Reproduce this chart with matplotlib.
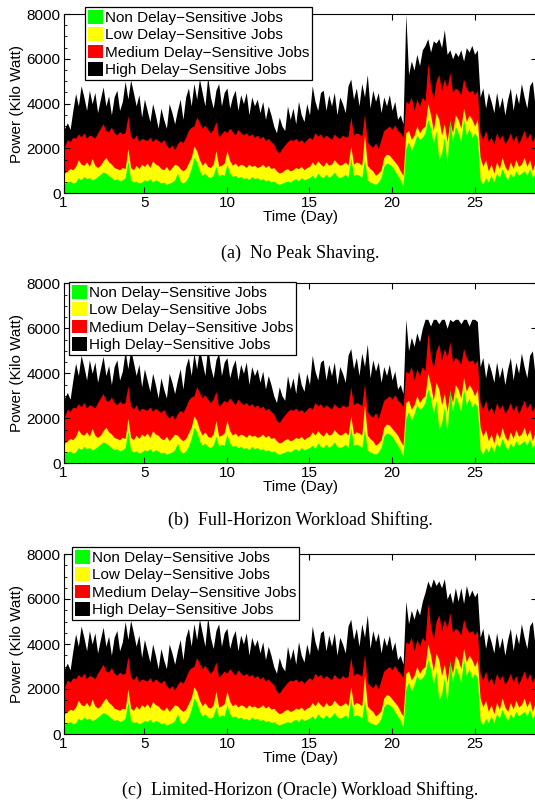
import matplotlib
matplotlib.use("Agg")
import matplotlib.pyplot as plt
import numpy as np
from matplotlib.patches import Patch
from matplotlib.ticker import MultipleLocator

plt.rcParams["font.family"] = ["Liberation Sans", "DejaVu Sans"]

# ---- data (kW), 6 samples per day (every 4 h) ----
samples_per_day = 6
job_labels = ["Non Delay\u2212Sensitive Jobs", "Low Delay\u2212Sensitive Jobs",
              "Medium Delay\u2212Sensitive Jobs", "High Delay\u2212Sensitive Jobs"]
job_colors = ["#00ff00", "#ffff00", "#ff0000", "#000000"]
captions = ["(a)  No Peak Shaving.",
            "(b)  Full-Horizon Workload Shifting.",
            "(c)  Limited-Horizon (Oracle) Workload Shifting."]
tick_days = [0.1, 5, 10, 15, 20, 25]
tick_labels = ["1", "5", "10", "15", "20", "25"]

# top of the green band (non delay-sensitive)
non_top = [
    600, 450, 500, 550, 450, 500,
    700, 600, 750, 650, 700, 600,
    650, 750, 850, 950, 900, 800,
    700, 600, 650, 550, 600, 700,
    1450, 600, 500, 550, 450, 500,
    600, 550, 650, 500, 600, 550,
    450, 500, 400, 450, 500, 600,
    900, 550, 450, 550, 750, 1100,
    1600, 1400, 1000, 800, 900, 750,
    700, 800, 1200, 750, 850, 800,
    1300, 900, 750, 800, 700, 750,
    650, 700, 600, 750, 650, 700,
    600, 650, 550, 600, 500, 550,
    450, 400, 450, 500, 550, 500,
    600, 650, 550, 700, 600, 650,
    700, 800, 650, 900, 750, 700,
    850, 700, 800, 950, 750, 700,
    750, 850, 700, 1600, 800, 850,
    800, 700, 1500, 600, 500, 450,
    400, 500, 700, 1200, 1350, 1300,
    1200, 1000, 800, 600, 300, 2000,
    2300, 1900, 2200, 2600, 2400, 2500,
    2700, 3300, 2900, 2200, 2800, 1500,
    1800, 2500, 1300, 3300, 2300, 3000,
    2700, 2300, 3300, 2600, 2900, 2500,
    2700, 2500, 600, 400, 700, 500,
    800, 500, 900, 700, 1100, 800,
    600, 900, 700, 1000, 800, 900,
    1000, 800, 1100, 700, 900, 950,
]

# top of the yellow band (non + low)
low_top = [
    1300, 900, 1000, 1100, 1050, 1200,
    1500, 1300, 1250, 1400, 1200, 1550,
    1250, 1150, 1250, 1450, 1600, 1400,
    1300, 1150, 1100, 1050, 1150, 1100,
    2000, 1150, 1050, 1250, 1100, 1300,
    1200, 1350, 1150, 1450, 1300, 1250,
    1100, 1050, 1200, 1000, 1150, 1300,
    1250, 1100, 1000, 1100, 1350, 1600,
    2100, 1900, 1500, 1250, 1400, 1200,
    1150, 1300, 1900, 1200, 1250, 1350,
    1900, 1450, 1250, 1350, 1200, 1300,
    1250, 1150, 1300, 1200, 1250, 1150,
    1200, 1300, 1150, 1250, 1100, 1150,
    1000, 900, 950, 1050, 1100, 1000,
    1050, 1150, 1100, 1200, 1050, 1150,
    1200, 1400, 1250, 1450, 1300, 1200,
    1400, 1250, 1300, 1500, 1350, 1250,
    1300, 1400, 1250, 2100, 1300, 1400,
    1350, 1250, 2600, 1250, 1100, 1000,
    800, 900, 1050, 1600, 1750, 1700,
    1550, 1400, 1250, 1000, 800, 2700,
    2800, 2400, 2600, 3000, 2700, 2900,
    3000, 4000, 3500, 2800, 3600, 3300,
    2600, 3100, 2300, 3200, 2700, 3500,
    3300, 2900, 3800, 3200, 3500, 3300,
    3000, 3300, 1600, 1200, 1500, 1000,
    1300, 900, 1400, 1100, 1600, 1200,
    1000, 1400, 1100, 1500, 1200, 1300,
    1600, 1200, 1500, 1000, 1400, 1300,
]

# top of the red band (non + low + medium)
med_top = [
    1950, 2100, 2400, 2300, 2500, 2450,
    2650, 2500, 2700, 2450, 2600, 2550,
    2450, 2700, 2900, 3100, 2800, 2750,
    2950, 2700, 2600, 2750, 2650, 2700,
    3450, 2550, 2400, 2600, 2300, 2450,
    2400, 2350, 2500, 2300, 2450, 2350,
    2250, 2400, 2150, 2000, 2150, 1950,
    2200, 2350, 2250, 2500, 2800, 2950,
    3000, 3400, 3150, 2900, 3050, 2850,
    2700, 2850, 3200, 2500, 2650, 2800,
    2700, 2900, 2750, 2600, 2850, 2700,
    2600, 2700, 2550, 2650, 2500, 2600,
    2450, 2550, 2350, 2450, 2300, 2200,
    1900, 1800, 2000, 2150, 2300, 2400,
    2350, 2450, 2300, 2400, 2250, 2400,
    2500, 2400, 2700, 2550, 2650, 2450,
    2600, 2500, 2400, 2650, 2500, 2450,
    2600, 2500, 2550, 3400, 2600, 2700,
    2650, 2550, 3550, 2300, 2150, 2050,
    2250, 2000, 2400, 2800, 2900, 3000,
    2850, 3050, 2800, 2700, 2500, 4100,
    4000, 4300, 3700, 4200, 3900, 4300,
    4100, 5800, 4800, 4200, 5000, 5300,
    4600, 5100, 4700, 5400, 4500, 4700,
    4600, 4400, 5100, 4700, 4500, 4600,
    4400, 4600, 2700, 2400, 2800, 2300,
    2500, 2200, 2700, 2400, 2600, 2200,
    2400, 2700, 2300, 2600, 2200, 2500,
    2800, 2400, 2700, 2300, 2600, 2500,
]

# total power (top of the black band), days 1 .. 21.7, same in all panels
total_head = [
    3300, 2900, 3150, 2850, 3700, 4450,
    3900, 4800, 4300, 3700, 4600, 4000,
    4500, 3600, 4200, 4750, 3900, 4350,
    3500, 4300, 4600, 3700, 4100, 5000,
    4200, 5050, 4500, 3900, 4400, 3400,
    4200, 3700, 3200, 4000, 3500, 2900,
    3800, 3300, 2900, 4000, 3600, 3100,
    3700, 4200, 3300, 4300, 4700, 3900,
    4900, 4200, 5100, 4500, 3900, 5200,
    4300, 3800, 4600, 4900, 3900, 4500,
    4700, 3800, 4300, 4600, 3700, 4400,
    4000, 4500, 3500, 4300, 3900, 4200,
    3600, 4100, 3300, 3900, 3500, 3000,
    2700, 3400, 3000, 2800, 3900, 3300,
    3800, 3100, 4100, 3500, 3200, 4000,
    3500, 4800, 4100, 3700, 4500, 4600,
    3700, 4400, 3900, 4500, 3500, 4300,
    4000, 3600, 4800, 5100, 4200, 4700,
    3900, 4900, 4300, 5300, 3800, 4600,
    4100, 4500, 3600, 4300, 3900, 4400,
    3700, 4100, 3300, 3500, 3100,
]

# total power during the surge (day 21.8 .. 26.2), one list per strategy
surge_a = [
    8000,
    5300, 5900, 5500, 6200, 5700, 6400,
    6600, 6900, 6300, 6800, 6700, 6900,
    6500, 7300, 6200, 6400, 6000, 6300,
    6100, 6400, 5900, 6500, 6300, 6600,
    6200, 6400,
]
surge_b = [
    6400,
    5000, 5600, 5200, 5800, 5400, 6000,
    6400, 6400, 6100, 6400, 6400, 6200,
    6400, 6400, 6000, 6400, 6300, 6400,
    6400, 6200, 6400, 6400, 6100, 6400,
    6400, 6300,
]
surge_c = [
    5900,
    4900, 5500, 5100, 5600, 5300, 5900,
    6300, 6800, 6500, 6900, 6600, 6800,
    6500, 6900, 6000, 6300, 5800, 6500,
    5900, 6500, 5800, 6600, 6100, 6400,
    6100, 6300,
]

# total power after the surge, same in all panels
total_tail = [
    4300, 4700, 3800, 4500,
    4100, 3600, 4500, 3800, 4300, 3500,
    4200, 4700, 3700, 4500, 4000, 4900,
    4300, 3800, 4800, 5000, 3900, 4600,
]


def draw_panel(ax, total):
    t = np.arange(len(non_top)) / samples_per_day
    # draw back-to-front from zero so the bands have no seams
    for top, c in zip([total, med_top, low_top, non_top], job_colors[::-1]):
        ax.fill_between(t, 0, top, color=c, linewidth=0)

    ax.set_xlim(0.1, 28.78)
    ax.set_ylim(0, 8000)
    ax.set_xticks(tick_days)
    ax.set_xticklabels(tick_labels)
    ax.set_yticks([0, 2000, 4000, 6000, 8000])
    ax.yaxis.set_minor_locator(MultipleLocator(500))
    ax.tick_params(which="both", direction="in", top=True, right=True,
                   labelsize=11, pad=2)
    ax.tick_params(which="major", length=4, width=0.8)
    ax.tick_params(which="minor", length=2, width=0.6, right=False)
    for s in ax.spines.values():
        s.set_linewidth(0.8)
    ax.set_xlabel("Time (Day)", fontsize=11, labelpad=0)
    ax.set_ylabel("Power (Kilo Watt)", fontsize=11, labelpad=2)


fig = plt.figure(figsize=(5.35, 8.06), dpi=100)

W, H = 535.0, 806.0
left_px, right_px = 63.5, 537.0
panels = [
    (total_head + surge_a + total_tail, 14.0, 193.3, (85, 7), captions[0], 253),
    (total_head + surge_b + total_tail, 283.3, 463.3, (69, 282), captions[1], 520),
    (total_head + surge_c + total_tail, 554.0, 734.0, (72, 547), captions[2], 790),
]

handles = [Patch(facecolor=c, edgecolor="none") for c in job_colors]

for total, top_px, bot_px, leg_xy, cap, cap_y in panels:
    ax = fig.add_axes([left_px / W, 1 - bot_px / H,
                       (right_px - left_px) / W, (bot_px - top_px) / H])
    draw_panel(ax, total)

    leg = fig.legend(handles, job_labels, loc="upper left",
                     bbox_to_anchor=(leg_xy[0] / W, 1 - leg_xy[1] / H),
                     bbox_transform=fig.transFigure, borderaxespad=0,
                     fontsize=11, handlelength=0.95, handleheight=1.0,
                     handletextpad=0.15, borderpad=0.2, labelspacing=0.15,
                     fancybox=False, framealpha=1, edgecolor="black")
    leg.get_frame().set_linewidth(0.9)

    fig.text(300 / W, 1 - cap_y / H, cap, ha="center", va="center",
             family="Liberation Serif", fontsize=13)

fig.savefig("out.png", dpi=100)
